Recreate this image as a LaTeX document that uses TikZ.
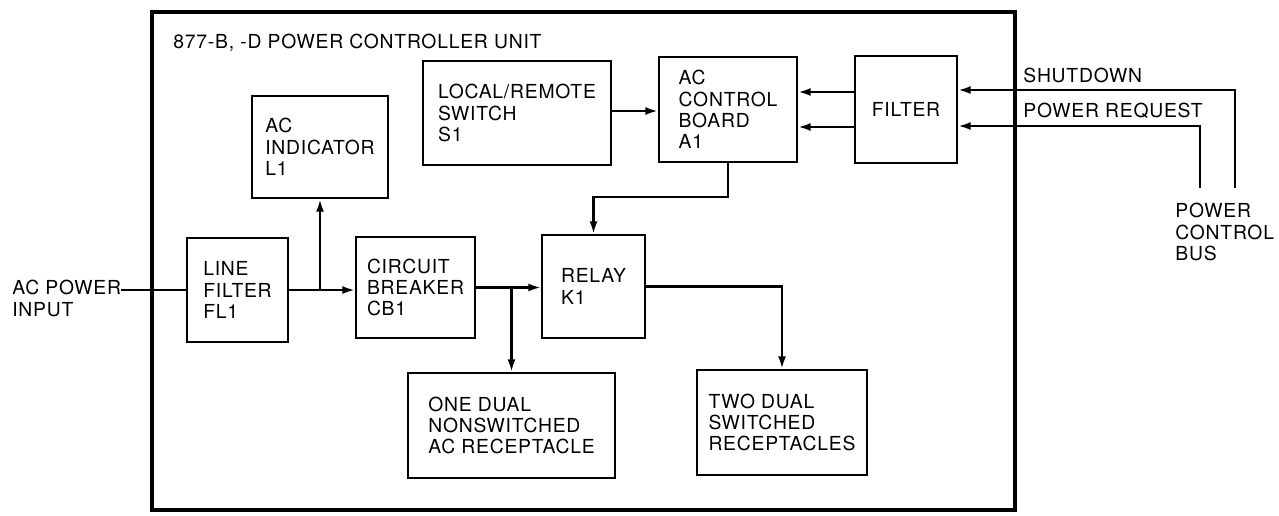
\documentclass[tikz,border=0pt]{standalone}
\usepackage{fontspec}
\setmainfont[LetterSpace=4]{TeX Gyre Heros}
\usetikzlibrary{arrows.meta,positioning,calc}

\begin{document}
\begin{tikzpicture}[
    x=0.02cm, y=-0.02cm,
    box/.style={draw, line width=1.5pt, align=left, inner sep=0pt, font=\fontsize{11}{12.2}\selectfont},
    lbl/.style={align=left, inner sep=0pt, font=\fontsize{11}{12.2}\selectfont},
    wire/.style={line width=1.2pt, -{Latex[length=7pt,width=4.5pt]}}
  ]
  \useasboundingbox (0,0) rectangle (1279,515);
  \draw[line width=2pt] (152,12) rectangle (1015,510);
  \node[lbl, anchor=west] (title) at (173,43) {877-B, -D POWER CONTROLLER UNIT};

  \node[box, minimum width=2.72cm, minimum height=2.04cm] (ind) at (320,147) {AC\\INDICATOR\\L1};
  \node[box, minimum width=2.02cm, minimum height=2.08cm] (lf) at (237.5,290) {LINE\\FILTER\\FL1};
  \node[box, minimum width=2.38cm, minimum height=2.02cm] (cb) at (415.5,287.5) {CIRCUIT\\BREAKER\\CB1};
  \node[box, minimum width=3.76cm, minimum height=2.08cm] (sw) at (517,113) {LOCAL/REMOTE\\SWITCH\\S1};
  \node[box, minimum width=2.76cm, minimum height=2.10cm] (acb) at (728,109.5) {AC\\CONTROL\\BOARD\\A1};
  \node[box, minimum width=2.04cm, minimum height=2.14cm] (flt) at (906,109.5) {FILTER};
  \node[box, minimum width=2.06cm, minimum height=2.06cm] (rly) at (593.5,286.5) {RELAY\\K1};
  \node[box, minimum width=4.14cm, minimum height=2.10cm] (rcp1) at (511.5,425.5) {ONE DUAL\\NONSWITCHED\\AC RECEPTACLE};
  \node[box, minimum width=3.40cm, minimum height=2.10cm] (rcp2) at (782,422.5) {TWO DUAL\\SWITCHED\\RECEPTACLES};

  \node[lbl, anchor=north west] (acin) at (12,280) {AC POWER\\INPUT};
  \node[lbl, anchor=west] (sdtxt) at (1023,75) {SHUTDOWN};
  \node[lbl, anchor=west] (prtxt) at (1023,111) {POWER REQUEST};
  \node[lbl, anchor=north west] (bus) at (1175,203) {POWER\\CONTROL\\BUS};
  \coordinate (sdend) at (1235,188);
  \coordinate (prend) at (1200,188);

  \draw[wire] (sdend) |- (flt.east |- 0,90);
  \draw[wire] (prend) |- (flt.east |- 0,126);
  \draw[wire] (flt.west |- 0,92) -- (acb.east |- 0,92);
  \draw[wire] (flt.west |- 0,127) -- (acb.east |- 0,127);
  \draw[wire] (sw.east |- 0,111) -- (acb.west |- 0,111);
  \draw[wire] (acb.south) -- ++(0,34) -| (rly.north);

  \draw[line width=1.2pt] (acin.east |- lf.west) -- (lf.west);
  \draw[wire] (lf.east) -- (lf.east -| cb.west);
  \draw[wire] (ind.south |- lf.east) -- (ind.south);
  \draw[wire] (cb.east) -- (cb.east -| rly.west);
  \draw[wire] (rcp1.north |- cb.east) -- (rcp1.north);
  \draw[wire] (rly.east) -| (rcp2.north);
\end{tikzpicture}
\end{document}
